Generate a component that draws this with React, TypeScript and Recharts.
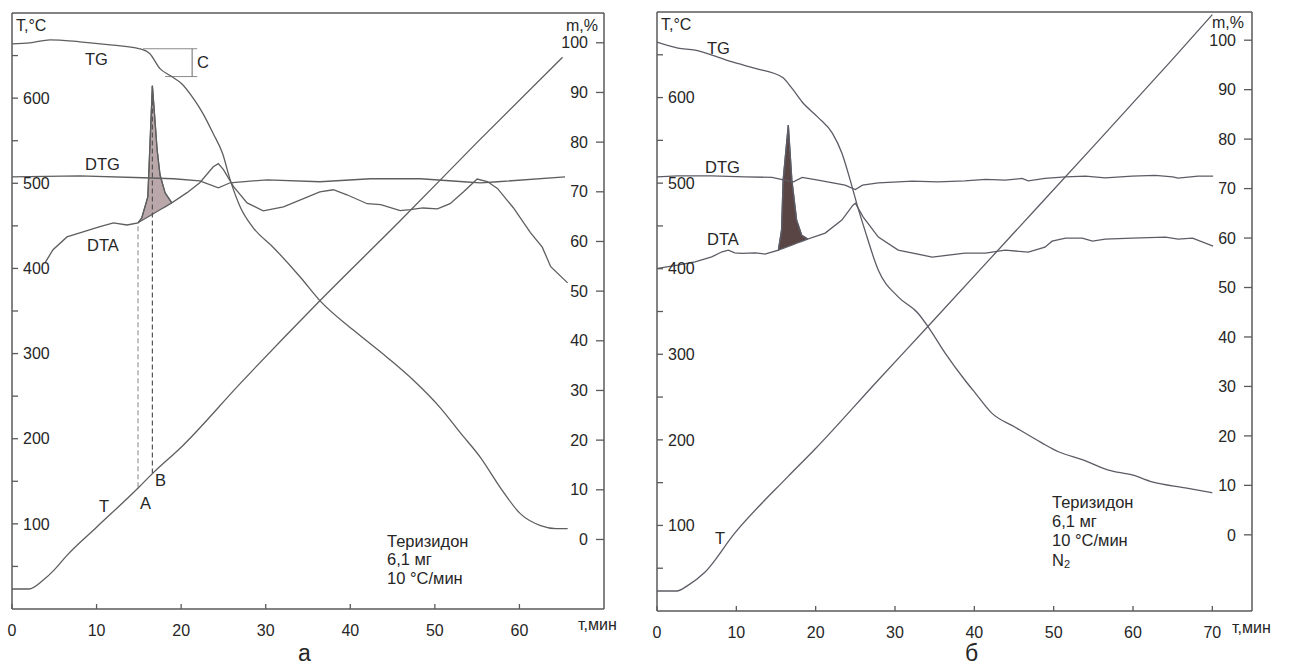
import React from 'react';
import { ComposedChart, Line, Area, XAxis, YAxis, ReferenceLine } from 'recharts';

const FONT = '"Liberation Sans", Arial, sans-serif';
const INK = '#262626';
const AXIS = '#5a5a5a';

// shared axes
const tempTicks = [50, 100, 150, 200, 250, 300, 350, 400, 450, 500, 550, 600, 650];
const massTicks = [0, 10, 20, 30, 40, 50, 60, 70, 80, 90, 100];
const timeTicksA = [0, 10, 20, 30, 40, 50, 60];
const timeTicksB = [0, 10, 20, 30, 40, 50, 60, 70];

// ---- panel а ----
const tTimeA = [0, 2, 3.7, 5, 6.5, 10, 15, 16.6, 20, 27, 36.2, 45.9, 55, 65.1];
const tValA = [23.5, 23.5, 34, 46, 63, 96, 143, 159, 190, 265, 360, 456, 548, 648];

const tgTimeA = [0, 2.1, 4.5, 8, 11.6, 15.1, 16.3, 17.5, 18.7, 20.1, 21.4, 22.6, 23.8, 24.9, 25.8, 27, 28.5, 30.9, 34.1, 36.4, 40.4, 44.4, 47.5, 50.7, 53, 55.4, 57.8, 60.1, 62.5, 64.3, 65.7];
const tgValA = [99.8, 100, 100.6, 100.2, 99.6, 98.8, 97.8, 94.8, 93.4, 91.7, 88.9, 85.7, 81.7, 77.7, 72.4, 66.9, 62.8, 58.8, 52.8, 48.1, 42.1, 36.6, 32, 26.4, 21.5, 16.5, 10.3, 5.2, 2.8, 2.2, 2.2];

const dtgTimeA = [0, 8, 15.5, 19.1, 22.2, 24.4, 25.8, 30.2, 36.4, 42.4, 48.3, 53.4, 55.4, 57.4, 65.4];
const dtgValA = [507.6, 508.8, 506.5, 505.3, 502.9, 494.7, 500.6, 504.1, 501.8, 505.3, 505.3, 501.8, 500.6, 501.8, 507.6];

const dtaTimeA = [3.9, 4.85, 6.5, 8.4, 10.4, 12, 13.6, 14.9, 15.35, 16.06, 16.6, 16.9, 17.16, 17.5, 18.1, 18.9, 20.7, 22.2, 23.8, 24.4, 25, 26.2, 27.8, 29.7, 32.1, 36.4, 38, 39.6, 42, 43.6, 45.9, 47.1, 48.6, 50.3, 51.8, 53.4, 55, 56.2, 57.4, 59.3, 61.3, 62.7, 63.7, 65.7];
const dtaValA = [406.6, 422, 437, 443, 449, 453.6, 451, 453.6, 459.5, 484, 614.6, 574.6, 539.4, 510, 488.8, 477, 489, 500.6, 519.4, 523, 516, 496, 477, 467.7, 472.4, 490, 492.4, 486.5, 476, 475, 468, 469, 471, 470, 476, 490, 505, 502, 494, 471, 442, 425, 402, 383];

const peakTimeA = [14.9, 15.35, 16.06, 16.6, 16.9, 17.16, 17.5, 18.1, 18.9];
const peakTopA = [453.6, 459.5, 484, 614.6, 574.6, 539.4, 510, 488.8, 477];
const peakBaseA = [453.6, 456.2, 460.4, 463.5, 465.3, 466.8, 468.8, 472.3, 477];

// dashed drops A and B: time, temperature on T, DTA level
const dropTimes = [14.9, 16.6];
const dropFrom = [143, 159];
const dropTo = [453.6, 614.6];

// mass step "C"
const stepTimes = [15.5, 18.1, 21.9, 21.3];
const stepLevels = [98.8, 93.2];

// ---- panel б ----
const tTimeB = [0, 2.5, 3.9, 6, 9.8, 16.5, 19.9, 27.9, 34.2, 45, 55, 65, 70];
const tValB = [23.4, 23.4, 30, 45, 91, 157, 189, 270, 333, 442, 543, 645, 697];

const tgTimeB = [0, 2.65, 4.8, 6.9, 9.5, 12.4, 15.8, 17, 18.3, 20.3, 22.1, 23.3, 24.6, 25.3, 26.2, 27.9, 30.4, 32.9, 34.2, 36.3, 38.8, 40.1, 42.2, 45.1, 48.5, 50.6, 53.6, 56.9, 59.9, 62.4, 66.6, 70];
const tgValB = [99.6, 98.4, 98, 97, 95.6, 94.3, 92.5, 90.3, 87.5, 84.4, 81.2, 77.2, 70.3, 66.3, 61.6, 53.5, 48.1, 44.8, 42, 36.8, 31.3, 28.7, 24.6, 21.8, 18.6, 16.8, 15.2, 13.1, 12.1, 10.7, 9.5, 8.5];

const dtgTimeB = [0, 2.6, 6.9, 11.1, 14.5, 16.1, 17.2, 18.3, 20.3, 23.7, 25, 25.9, 27.9, 30.4, 32.2, 35.4, 38.8, 41.4, 43.9, 46, 46.8, 48.9, 51.5, 54, 56.5, 59.9, 62.8, 65, 65.7, 68.2, 70.1];
const dtgValB = [507.4, 508.5, 508.5, 507.4, 506.7, 503.5, 501.5, 506.7, 503.5, 497.7, 492.6, 497.7, 500.4, 501.5, 502.3, 501.5, 502.7, 504.3, 503.5, 505.5, 502.7, 505.5, 507.4, 508.2, 506.2, 508.2, 509, 507.4, 505.8, 508.2, 508.2];

const dtaTimeB = [0.1, 2.6, 4.8, 6.9, 8.2, 9, 9.8, 10.7, 12.4, 13.6, 15.3, 15.7, 15.9, 16.55, 17, 17.6, 18.25, 19, 21.2, 23.3, 24.7, 25, 26, 27.9, 30.4, 34.7, 38.8, 41.4, 43.9, 46.8, 48.9, 49.8, 51.5, 53.6, 54.9, 56.5, 59.9, 64.1, 65.7, 67.5, 70.1];
const dtaValB = [400.4, 404.2, 408.1, 413.9, 419.8, 421.7, 418.6, 417.9, 418.6, 417.1, 421.7, 445, 503.5, 567.8, 503.5, 456.8, 439, 434.6, 441.6, 456.8, 474.3, 476.6, 460.3, 436.9, 421.7, 413.6, 418.2, 418.2, 421.7, 419.4, 425.2, 432.2, 435.7, 435.7, 432.2, 434.6, 435.7, 436.9, 434.6, 435.7, 426.4];

const peakTimeB = [15.3, 15.7, 15.9, 16.55, 17, 17.6, 18.25, 19];
const peakTopB = [421.7, 445, 503.5, 567.8, 503.5, 456.8, 439, 434.6];
const peakBaseB = [421.7, 423.1, 423.8, 426.1, 427.6, 429.7, 432, 434.6];

const pairs = (ts: number[], vs: number[]) => ts.map((t, i) => ({ t, v: vs[i] }));
const band = (ts: number[], lo: number[], hi: number[]) => ts.map((t, i) => ({ t, range: [lo[i], hi[i]] }));

function XTick({ x, y, payload }: any) {
  return (
    <g>
      <line x1={x} x2={x} y1={y} y2={y - 5} stroke={AXIS} strokeWidth={1.3} />
      <text x={x} y={y + 27} textAnchor="middle" fontSize={16} fill={INK} fontFamily={FONT}>
        {payload.value}
      </text>
    </g>
  );
}

interface PanelProps {
  width: number;
  margin: { top: number; right: number; bottom: number; left: number };
  xMax: number;
  xTicks: number[];
  mDomain: [number, number];
  lineColor: string;
  peakFill: string;
  T: { t: number; v: number }[];
  TG: { t: number; v: number }[];
  DTG: { t: number; v: number }[];
  DTA: { t: number; v: number }[];
  peak: { t: number; range: number[] }[];
  extras?: React.ReactNode[];
}

function Panel(p: PanelProps) {
  const line = { stroke: p.lineColor, strokeWidth: 1.3, dot: false, activeDot: false, isAnimationActive: false } as const;
  return (
    <ComposedChart width={p.width} height={668} margin={p.margin}>
      <XAxis
        xAxisId={0}
        type="number"
        dataKey="t"
        domain={[0, p.xMax]}
        ticks={p.xTicks}
        allowDataOverflow
        height={40}
        axisLine={{ stroke: AXIS, strokeWidth: 1.5 }}
        tickLine={false}
        tickSize={0}
        tickMargin={0}
        tick={(tp: any) => <XTick {...tp} />}
        interval={0}
      />
      <YAxis
        yAxisId="T"
        type="number"
        domain={[0, 700]}
        ticks={tempTicks}
        allowDataOverflow
        mirror
        interval={0}
        tickSize={6}
        tickMargin={5}
        axisLine={{ stroke: AXIS, strokeWidth: 1.5 }}
        tickLine={{ stroke: AXIS, strokeWidth: 1.3 }}
        tick={{ fill: INK, fontSize: 16, fontFamily: FONT }}
        tickFormatter={(v: number) => (v % 100 === 0 ? String(v) : '')}
      />
      <YAxis
        yAxisId="m"
        orientation="right"
        type="number"
        domain={p.mDomain}
        ticks={massTicks}
        allowDataOverflow
        mirror
        interval={0}
        tickSize={8}
        tickMargin={8}
        axisLine={{ stroke: AXIS, strokeWidth: 1.5 }}
        tickLine={{ stroke: AXIS, strokeWidth: 1.3 }}
        tick={{ fill: INK, fontSize: 16, fontFamily: FONT }}
      />
      <ReferenceLine yAxisId="T" y={700} stroke={AXIS} strokeWidth={1.5} />
      <Area
        yAxisId="T"
        data={p.peak}
        dataKey="range"
        type="linear"
        fill={p.peakFill}
        fillOpacity={1}
        stroke={p.lineColor}
        strokeWidth={1.2}
        isAnimationActive={false}
        dot={false}
        activeDot={false}
      />
      {p.extras}
      <Line yAxisId="T" data={p.T} dataKey="v" type="monotone" {...line} />
      <Line yAxisId="m" data={p.TG} dataKey="v" type="monotone" {...line} />
      <Line yAxisId="T" data={p.DTG} dataKey="v" type="linear" {...line} />
      <Line yAxisId="T" data={p.DTA} dataKey="v" type="linear" {...line} />
    </ComposedChart>
  );
}

const txt = (x: number, y: number, s: React.ReactNode, size = 16.5) => (
  <text x={x} y={y} fontSize={size} fill={INK} fontFamily={FONT}>
    {s}
  </text>
);

export default function App() {
  const extrasA = [
    ...dropTimes.map((t, i) => (
      <ReferenceLine
        key={`drop-${i}`}
        yAxisId="T"
        segment={[{ x: t, y: dropFrom[i] }, { x: t, y: dropTo[i] }]}
        stroke={i === 0 ? '#9a9a9a' : '#555'}
        strokeDasharray="5 3"
        strokeWidth={1.2}
      />
    )),
    <ReferenceLine key="c-top" yAxisId="m" segment={[{ x: stepTimes[0], y: stepLevels[0] }, { x: stepTimes[2], y: stepLevels[0] }]} stroke="#8a8a8a" strokeWidth={1} />,
    <ReferenceLine key="c-bot" yAxisId="m" segment={[{ x: stepTimes[1], y: stepLevels[1] }, { x: stepTimes[2], y: stepLevels[1] }]} stroke="#8a8a8a" strokeWidth={1} />,
    <ReferenceLine key="c-mid" yAxisId="m" segment={[{ x: stepTimes[3], y: stepLevels[0] }, { x: stepTimes[3], y: stepLevels[1] }]} stroke="#6a6a6a" strokeWidth={1} />,
  ];

  return (
    <div style={{ position: 'absolute', left: 0, top: 0, width: 1289, height: 668, background: '#fff', overflow: 'hidden' }}>
      <div style={{ position: 'absolute', left: 0, top: 0 }}>
        <Panel
          width={640}
          margin={{ top: 13, right: 36, bottom: 19, left: 12 }}
          xMax={70}
          xTicks={timeTicksA}
          mDomain={[-14, 106]}
          lineColor="#5e5e5e"
          peakFill="#b9a7aa"
          T={pairs(tTimeA, tValA)}
          TG={pairs(tgTimeA, tgValA)}
          DTG={pairs(dtgTimeA, dtgValA)}
          DTA={pairs(dtaTimeA, dtaValA)}
          peak={band(peakTimeA, peakBaseA, peakTopA)}
          extras={extrasA}
        />
      </div>
      <div style={{ position: 'absolute', left: 645, top: 0 }}>
        <Panel
          width={644}
          margin={{ top: 12, right: 37, bottom: 17, left: 12 }}
          xMax={75}
          xTicks={timeTicksB}
          mDomain={[-15.4, 105.7]}
          lineColor="#5c5c66"
          peakFill="#5a4545"
          T={pairs(tTimeB, tValB)}
          TG={pairs(tgTimeB, tgValB)}
          DTG={pairs(dtgTimeB, dtgValB)}
          DTA={pairs(dtaTimeB, dtaValB)}
          peak={band(peakTimeB, peakBaseB, peakTopB)}
        />
      </div>
      <svg width={1289} height={668} style={{ position: 'absolute', left: 0, top: 0, pointerEvents: 'none' }}>
        {txt(16, 31, 'T,°C', 16)}
        {txt(566, 31, 'm,%', 16)}
        {txt(85, 65, 'TG')}
        {txt(197, 68, 'C')}
        {txt(85, 170, 'DTG')}
        {txt(87, 251, 'DTA')}
        {txt(99, 512, 'T')}
        {txt(140, 509, 'A')}
        {txt(155, 486, 'B')}
        {txt(387, 547, 'Теризидон')}
        {txt(387, 565, '6,1 мг')}
        {txt(387, 584, '10 °C/мин')}
        {txt(578, 630, 'т,мин', 16)}
        {txt(298, 661, 'а', 23)}

        {txt(661, 30, 'T,°C', 16)}
        {txt(1212, 28, 'm,%', 16)}
        {txt(707, 54, 'TG')}
        {txt(705, 173, 'DTG')}
        {txt(707, 245, 'DTA')}
        {txt(715, 544, 'T')}
        {txt(1052, 508, 'Теризидон')}
        {txt(1052, 527, '6,1 мг')}
        {txt(1052, 546, '10 °C/мин')}
        {txt(1052, 566, <>N<tspan fontSize={11} dy={2}>2</tspan></>)}
        {txt(1232, 633, 'т,мин', 16)}
        {txt(965, 661, 'б', 23)}
      </svg>
    </div>
  );
}
